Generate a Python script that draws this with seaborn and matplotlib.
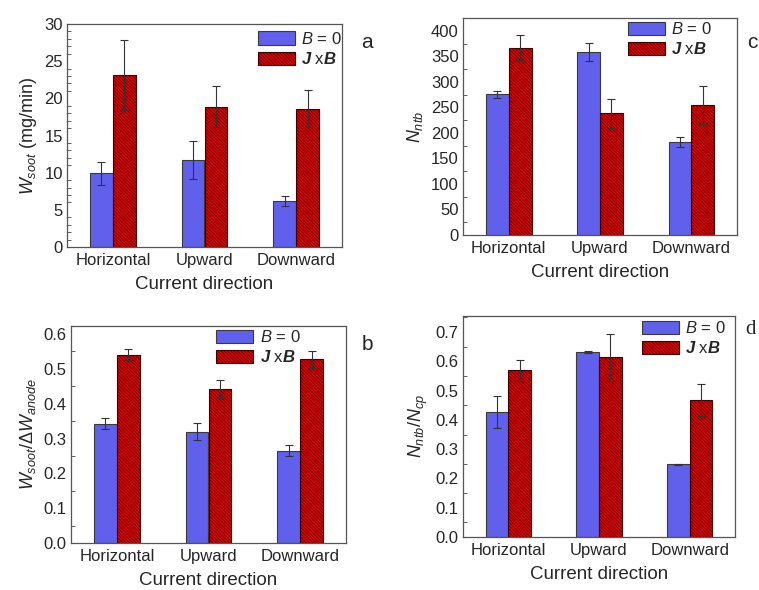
import numpy as np
import pandas as pd
import matplotlib
matplotlib.use("Agg")
import matplotlib.pyplot as plt
import seaborn as sns
from matplotlib.ticker import MultipleLocator, FormatStrFormatter

sns.set_theme(style="white")
plt.rcParams['font.family'] = ['Liberation Sans', 'DejaVu Sans']
plt.rcParams['mathtext.fontset'] = 'custom'
plt.rcParams['mathtext.rm'] = 'Liberation Sans'
plt.rcParams['mathtext.it'] = 'Liberation Sans:italic'
plt.rcParams['mathtext.bf'] = 'Liberation Sans:italic:bold'
plt.rcParams['hatch.linewidth'] = 0.4

directions = ["Horizontal", "Upward", "Downward"]
conditions = ["B = 0", "J x B"]

# Panel a: W_soot (mg/min)
a_b0 = [9.9, 11.7, 6.2]
a_b0_err = [1.5, 2.6, 0.7]
a_jxb = [23.1, 18.9, 18.6]
a_jxb_err = [4.7, 2.8, 2.5]

# Panel c: N_ntb
c_b0 = [276, 359, 182]
c_b0_err = [7, 18, 10]
c_jxb = [367, 238, 255]
c_jxb_err = [24, 28, 37]

# Panel b: W_soot / dW_anode
b_b0 = [0.343, 0.320, 0.265]
b_b0_err = [0.016, 0.024, 0.016]
b_jxb = [0.541, 0.442, 0.527]
b_jxb_err = [0.016, 0.026, 0.025]

# Panel d: N_ntb / N_cp
d_b0 = [0.427, 0.632, 0.248]
d_b0_err = [0.055, 0.005, 0.002]
d_jxb = [0.570, 0.614, 0.468]
d_jxb_err = [0.036, 0.080, 0.056]

BLUE = "#6060EC"
RED = "#D80000"
W, H = 759, 590

fig = plt.figure(figsize=(7.59, 5.90), dpi=100)


def px_axes(l, r, t, b):
    return fig.add_axes([l / W, 1 - b / H, (r - l) / W, (b - t) / H])


def panel(ax, b0, b0e, jxb, jxbe, ylim, major, minor, fmt, ylabel, leg_anchor):
    df = pd.DataFrame({
        "direction": directions * 2,
        "cond": [conditions[0]] * 3 + [conditions[1]] * 3,
        "value": list(b0) + list(jxb),
    })
    sns.barplot(data=df, x="direction", y="value", hue="cond",
                palette=[BLUE, RED], width=0.5, errorbar=None,
                edgecolor="#3a3a3a", linewidth=0.8, saturation=1,
                legend=False, ax=ax)
    bars = list(ax.containers[:2])
    for p in bars[1]:
        p.set_hatch("\\" * 10)
        p.set_edgecolor("#3a0000")
    errs = [b0e, jxbe]
    vals = [b0, jxb]
    for k, cont in enumerate(bars):
        xs = [p.get_x() + p.get_width() / 2 for p in cont]
        ax.errorbar(xs, vals[k], yerr=errs[k], fmt="none", ecolor="#333333",
                    elinewidth=0.8, capsize=3, capthick=0.8, zorder=5)
    ax.set_xlim(-0.5, 2.5)
    ax.set_ylim(*ylim)
    ax.yaxis.set_major_locator(MultipleLocator(major))
    ax.yaxis.set_minor_locator(MultipleLocator(minor))
    if fmt:
        ax.yaxis.set_major_formatter(FormatStrFormatter(fmt))
    ax.tick_params(axis="y", which="major", direction="in", length=5, width=0.8,
                   color="#444444", labelsize=12, pad=3)
    ax.tick_params(axis="y", which="minor", direction="in", length=3, width=0.6,
                   color="#444444", left=True)
    ax.tick_params(axis="x", length=0, labelsize=12, pad=4)
    for s in ax.spines.values():
        s.set_color("#555555")
        s.set_linewidth(0.9)
    ax.set_xlabel("Current direction", fontsize=13.5, labelpad=6)
    ax.set_ylabel(ylabel, fontsize=13, labelpad=4)
    ax.legend(handles=[bars[0][0], bars[1][0]],
              labels=[r"$B$ = 0", r"$\mathbf{J}$ x$\mathbf{B}$"],
              loc="upper left", bbox_to_anchor=leg_anchor,
              fontsize=12, frameon=False,
              handlelength=2.2, handleheight=0.85, handletextpad=0.4,
              labelspacing=0.25, borderaxespad=0, borderpad=0)


ax_a = px_axes(67, 342, 24, 247)
panel(ax_a, a_b0, a_b0_err, a_jxb, a_jxb_err, (0, 30), 5, 1, None,
      r"$W_{soot}$ (mg/min)", (0.695, 0.969))

ax_c = px_axes(463, 737, 18, 235)
panel(ax_c, c_b0, c_b0_err, c_jxb, c_jxb_err, (0, 425), 50, 25, None,
      r"$N_{ntb}$", (0.602, 0.986))

ax_b = px_axes(71, 346, 326, 543)
panel(ax_b, b_b0, b_b0_err, b_jxb, b_jxb_err, (0, 0.623), 0.1, 0.05, "%.1f",
      r"$W_{soot}/\Delta W_{anode}$", (0.529, 0.986))

ax_d = px_axes(463, 735, 316, 537)
panel(ax_d, d_b0, d_b0_err, d_jxb, d_jxb_err, (0, 0.755), 0.1, 0.05, "%.1f",
      r"$N_{ntb}/N_{cp}$", (0.658, 0.982))

fig.text(367 / W, 1 - 42 / H, "a", fontsize=15, ha="center", va="center")
fig.text(752 / W, 1 - 42 / H, "c", fontsize=15, ha="center", va="center")
fig.text(367 / W, 1 - 345 / H, "b", fontsize=15, ha="center", va="center")
fig.text(751 / W, 1 - 329 / H, "d", fontsize=15, ha="center", va="center",
         family="Liberation Serif")

fig.savefig("out.png", dpi=100, facecolor="white")
